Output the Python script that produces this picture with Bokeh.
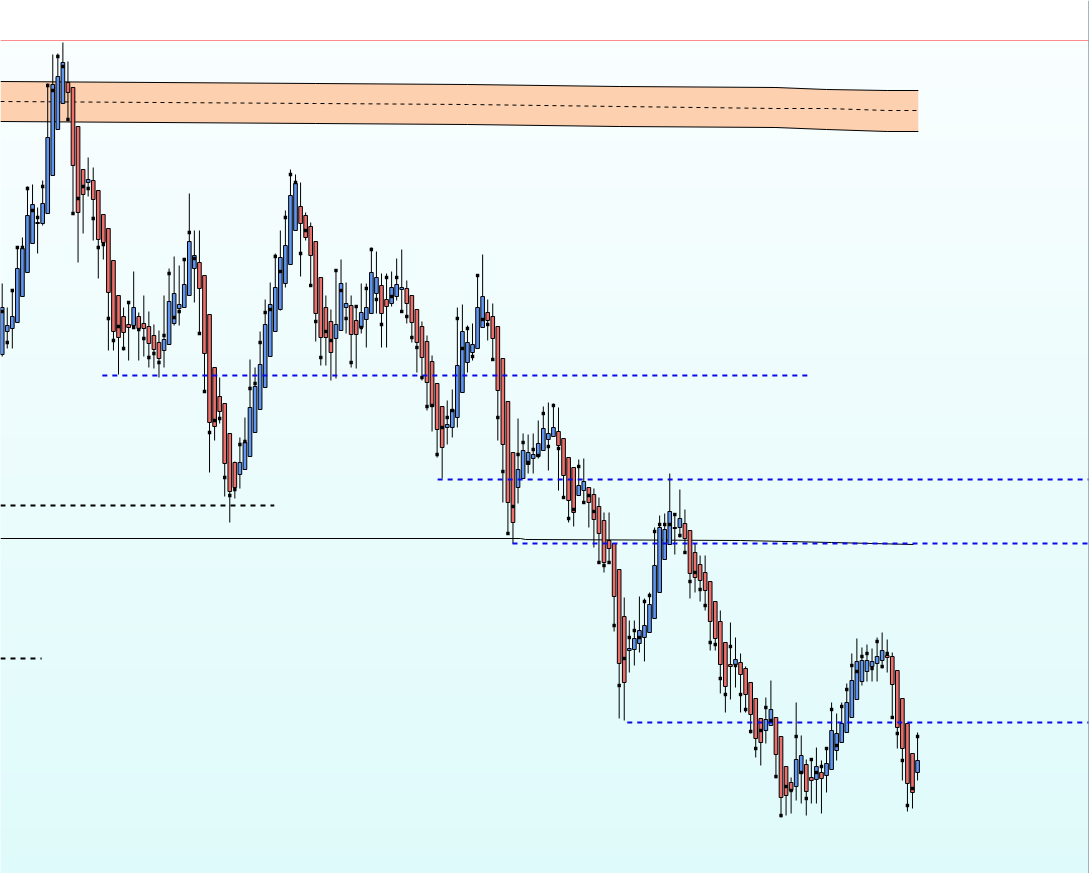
import numpy as np
from bokeh.plotting import figure
from bokeh.models import Range1d, Span, ColumnDataSource
from bokeh.embed import file_html
from bokeh.resources import INLINE

# ---------------- data (price units) ----------------
open_ = [646, 669, 672, 678, 704, 728, 757, 777, 777, 787,
         825, 871, 897, 918, 913, 874, 831, 818, 820, 810,
         786, 772, 740, 705, 684, 676, 675, 684, 677, 674,
         665, 658, 650, 656, 677, 692, 693, 705, 732, 738,
         725, 686, 633, 604, 597, 567, 538, 526, 531, 544,
         568, 591, 613, 644, 669, 691, 717, 736, 770, 794,
         785, 774, 759, 723, 693, 679, 662, 670, 693, 695,
         680, 673, 681, 687, 707, 715, 701, 697, 704, 711,
         712, 705, 691, 674, 659, 639, 617, 594, 573, 573,
         583, 608, 638, 648, 652, 673, 688, 684, 674, 642,
         599, 548, 513, 522, 536, 542, 544, 550, 561, 564,
         569, 562, 543, 533, 505, 510, 513, 506, 494, 480,
         460, 457, 431, 384, 350, 351, 357, 363, 368, 382,
         408, 441, 456, 473, 473, 477, 470, 448, 436, 428,
         419, 399, 379, 358, 336, 336, 338, 332, 318, 302,
         282, 270, 275, 283, 264, 234, 218, 214, 227, 236,
         223, 221, 228, 225, 231, 250, 258, 268, 283, 301,
         319, 329, 334, 337, 340, 345, 344, 330, 302, 277,
         247, 228]
high = [717, 693, 710, 753, 763, 814, 816, 793, 820, 917,
        946, 947, 958, 939, 913, 874, 831, 843, 833, 810,
        786, 772, 740, 705, 693, 698, 729, 688, 705, 689,
        676, 670, 705, 732, 744, 735, 741, 807, 770, 770,
        725, 686, 633, 623, 597, 567, 539, 563, 583, 641,
        633, 669, 701, 718, 747, 770, 790, 831, 826, 818,
        788, 778, 759, 723, 705, 691, 730, 741, 718, 705,
        694, 717, 717, 753, 749, 727, 727, 729, 742, 751,
        720, 705, 691, 679, 665, 645, 617, 594, 600, 611,
        693, 696, 675, 677, 725, 746, 701, 697, 674, 642,
        599, 548, 582, 567, 566, 567, 580, 594, 598, 597,
        593, 562, 543, 533, 541, 542, 513, 512, 503, 488,
        488, 457, 431, 403, 380, 380, 404, 402, 408, 473,
        485, 487, 527, 487, 511, 491, 470, 457, 445, 445,
        419, 399, 390, 358, 378, 363, 347, 334, 318, 302,
        282, 303, 320, 283, 264, 234, 223, 298, 265, 241,
        241, 253, 240, 252, 298, 287, 298, 317, 347, 362,
        353, 356, 352, 363, 368, 361, 348, 330, 302, 277,
        247, 268]
low = [644, 652, 652, 678, 704, 728, 757, 747, 775, 787,
       825, 871, 897, 881, 787, 738, 767, 804, 760, 722,
       741, 650, 650, 626, 650, 640, 673, 640, 644, 633,
       632, 623, 633, 656, 675, 675, 693, 705, 698, 667,
       608, 528, 560, 577, 504, 478, 502, 512, 531, 544,
       568, 591, 613, 644, 669, 690, 713, 736, 770, 724,
       760, 715, 659, 635, 635, 620, 622, 670, 667, 633,
       632, 667, 653, 687, 687, 653, 653, 694, 700, 689,
       677, 658, 628, 620, 590, 569, 543, 522, 556, 563,
       573, 608, 628, 640, 652, 673, 660, 641, 560, 498,
       467, 457, 497, 522, 527, 527, 542, 550, 530, 564,
       510, 503, 478, 474, 505, 497, 473, 453, 438, 428,
       437, 369, 282, 280, 328, 335, 348, 339, 368, 382,
       408, 441, 456, 446, 463, 448, 402, 408, 399, 390,
       350, 350, 307, 288, 301, 313, 288, 288, 267, 243,
       235, 257, 275, 222, 183, 185, 187, 200, 197, 185,
       197, 197, 187, 208, 231, 240, 258, 268, 283, 301,
       315, 319, 319, 319, 332, 328, 283, 252, 220, 189,
       192, 220]
close = [693, 675, 684, 732, 752, 785, 796, 778, 797, 863,
         916, 924, 938, 908, 835, 788, 806, 821, 801, 761,
         758, 708, 669, 663, 668, 673, 693, 672, 672, 657,
         651, 642, 661, 699, 707, 696, 716, 759, 745, 712,
         647, 578, 574, 589, 537, 509, 513, 538, 558, 593,
         614, 636, 676, 696, 713, 743, 755, 805, 817, 777,
         763, 745, 687, 663, 663, 648, 676, 717, 697, 666,
         666, 688, 693, 728, 723, 687, 694, 713, 716, 713,
         697, 678, 658, 643, 618, 594, 571, 553, 576, 591,
         635, 669, 658, 656, 693, 704, 680, 662, 610, 556,
         498, 478, 531, 550, 548, 546, 557, 572, 567, 573,
         555, 525, 500, 488, 515, 519, 498, 481, 467, 438,
         452, 404, 337, 318, 352, 362, 370, 375, 396, 435,
         473, 471, 489, 472, 482, 462, 427, 423, 420, 410,
         379, 362, 336, 314, 334, 341, 326, 306, 286, 262,
         258, 281, 291, 246, 203, 205, 210, 241, 245, 209,
         220, 234, 222, 237, 270, 267, 277, 298, 320, 339,
         340, 340, 339, 344, 350, 343, 316, 273, 252, 217,
         208, 240]
signal = [689, 658, 710, 753, 753, 812, 790, 783, 814, 915,
          910, 944, 934, 881, 787, 802, 814, 812, 782, 753,
          756, 682, 660, 674, 652, 698, 673, 671, 662, 643,
          647, 638, 665, 727, 683, 689, 741, 768, 742, 667,
          609, 568, 580, 582, 523, 505, 511, 556, 559, 612,
          617, 658, 688, 691, 744, 729, 783, 826, 818, 747,
          770, 715, 679, 643, 669, 660, 730, 710, 682, 638,
          694, 673, 712, 751, 701, 676, 723, 704, 723, 689,
          684, 663, 653, 623, 594, 595, 546, 573, 583, 590,
          682, 652, 672, 644, 725, 681, 676, 641, 583, 529,
          467, 494, 546, 558, 538, 551, 545, 587, 554, 595,
          552, 503, 482, 491, 534, 498, 505, 489, 438, 435,
          438, 375, 315, 342, 363, 370, 363, 399, 405, 469,
          476, 476, 476, 486, 465, 448, 419, 428, 411, 395,
          358, 356, 322, 306, 354, 335, 306, 291, 269, 252,
          270, 293, 280, 224, 185, 214, 210, 264, 228, 202,
          241, 228, 234, 252, 291, 255, 294, 311, 335, 329,
          344, 347, 332, 359, 334, 347, 283, 267, 240, 195,
          212, 264]

# supply zone (bar index, upper, lower, middle)
zone_idx = [-0.34, 31, 62, 92, 122, 153, 163, 175, 181.15]
zone_top = [919, 918, 917, 916, 914, 913, 911, 910, 910]
zone_bottom = [879, 878, 877, 876, 874, 873, 871, 869, 869]
zone_mid = [899, 898, 897, 896, 894, 892, 892, 890, 890]

# solid trend line
trend_idx = [-0.34, 102.5, 103.5, 146, 164, 180.2]
trend_val = [462, 462, 461, 460, 458, 456]

# horizontal levels
level_value = [625, 521, 457, 278, 495, 342]
level_start = [19.8, 86.1, 100.9, 123.6, -0.34, -0.34]
level_end = [159.4, 215.0, 215.0, 215.0, 53.8, 7.8]
level_group = ["pivot", "pivot", "pivot", "pivot", "old", "old"]

upper_limit = 960  # thin red line

# ---------------- figure ----------------
X0, X1 = -0.336, 215.0
Y0, Y1 = 127, 1000
p = figure(width=1089, height=873, x_range=Range1d(X0, X1), y_range=Range1d(Y0, Y1),
           output_backend="svg", toolbar_location=None,
           x_axis_type=None, y_axis_type=None, min_border=0)
p.grid.visible = False
p.outline_line_color = None
p.background_fill_color = "#ffffff"
p.border_fill_color = "#ffffff"

# background gradient below the red line
n = 90
edges = np.linspace(upper_limit, Y0, n + 1)
c_top = np.array([249, 254, 255])
c_bot = np.array([223, 250, 250])
cols = []
for i in range(n):
    t = (i + 0.5) / n
    cc = (c_top + (c_bot - c_top) * t).round().astype(int)
    cols.append("#%02x%02x%02x" % tuple(cc))
p.quad(left=X0 - 1, right=X1 + 1, top=list(edges[:-1] + 0.4), bottom=list(edges[1:] - 0.4),
       fill_color=cols, line_color=None)

p.add_layout(Span(location=upper_limit, dimension="width", line_color="#ff8c8c", line_width=1))
p.add_layout(Span(location=214.85, dimension="height", line_color="#8d9ea9", line_width=1))

# zone
p.varea(x=zone_idx, y1=zone_bottom, y2=zone_top, fill_color="#fdd0b0")
p.line(zone_idx, zone_top, line_color="black", line_width=1)
p.line(zone_idx, zone_bottom, line_color="black", line_width=1)
p.line(zone_idx, zone_mid, line_color="black", line_width=1, line_dash="4 4")

# trend line
p.line(trend_idx, trend_val, line_color="black", line_width=1)

# candles
idx = list(range(len(open_)))
up = [c >= o for o, c in zip(open_, close)]
src = ColumnDataSource(dict(
    x=idx, o=open_, h=high, l=low, c=close, m=signal,
    top=[max(o, c) for o, c in zip(open_, close)],
    bottom=[min(o, c) for o, c in zip(open_, close)],
    color=["#5f96f2" if u else "#ec6f6b" for u in up],
))
p.segment(x0="x", y0="h", x1="x", y1="l", source=src, line_color="black", line_width=1)
p.vbar(x="x", width=0.72, top="top", bottom="bottom", source=src,
       fill_color="color", line_color="black", line_width=1)

# levels (over the candles)
style = {"pivot": "#0a0ae8", "old": "black"}
for v, s, e, g in zip(level_value, level_start, level_end, level_group):
    p.line([s, e], [v, v], line_color=style[g], line_width=2, line_dash="5 5")

# signal markers
p.scatter(x="x", y="m", source=src, marker="square", size=3.4,
          fill_color="black", line_color=None)

open("out.html", "w").write(file_html(p, INLINE))
